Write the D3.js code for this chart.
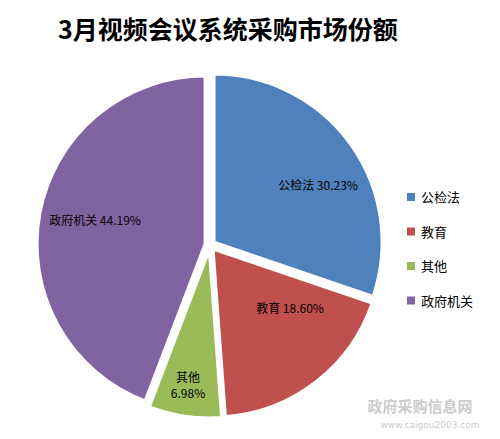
<!DOCTYPE html><html><head><meta charset="utf-8"><script src="https://cdn.jsdelivr.net/npm/d3@7"></script>
<style>body{margin:0;background:#fff}</style></head><body><svg id="c" width="500" height="439"></svg>
<script>
const categories=["公检法","教育","其他","政府机关"];
const values=[30.23,18.60,6.98,44.19];
const colors=["#4F81BD","#C0504D","#9BBB59","#8064A2"];
const title="3月视频会议系统采购市场份额";
const svg=d3.select("#c");
svg.append("text").attr("x",228).attr("y",39).attr("text-anchor","middle").attr("font-family","Noto Sans CJK SC").attr("font-weight","bold").attr("font-size",25).text(title);
const cx=210,cy=245,r=168,off=5;
const arcs=d3.pie().sort(null).value(d=>d)(values);
const arc=d3.arc().innerRadius(0).outerRadius(r);
const g=svg.append("g").attr("transform",`translate(${cx},${cy})`);
arcs.forEach((a,i)=>{const m=(a.startAngle+a.endAngle)/2;
 g.append("path").attr("d",arc(a)).attr("fill",colors[i]).attr("stroke","#fff").attr("stroke-width",3)
 .attr("transform",`translate(${Math.sin(m)*off},${-Math.cos(m)*off})`);});
const lab=[[108,-55],[80,68],[-22,137],[-115,-20]];
const tx=svg.append("g").attr("font-family","Noto Sans CJK SC").attr("font-size",12).attr("fill","#000");
arcs.forEach((a,i)=>{const t=tx.append("text").attr("text-anchor","middle").attr("x",cx+lab[i][0]).attr("y",cy+lab[i][1]);
 if(i===2){t.append("tspan").attr("x",cx+lab[i][0]).text(categories[i]);t.append("tspan").attr("x",cx+lab[i][0]).attr("dy",16).text(values[i].toFixed(2)+"%");}
 else t.text(categories[i]+" "+values[i].toFixed(2)+"%");});
const lg=svg.append("g").attr("font-family","Noto Sans CJK SC").attr("font-size",13);
categories.forEach((c,i)=>{const y=197+i*34.5;
 lg.append("rect").attr("x",407).attr("y",y-4).attr("width",8).attr("height",8).attr("fill",colors[i]);
 lg.append("text").attr("x",421).attr("y",y+5).text(c);});
svg.append("text").attr("x",420).attr("y",412).attr("text-anchor","middle").attr("font-family","Noto Sans CJK SC").attr("font-size",15).attr("font-weight","bold").attr("fill","#ccc").text("政府采购信息网");
svg.append("text").attr("x",430).attr("y",428).attr("text-anchor","middle").attr("font-family","DejaVu Sans").attr("font-size",9).attr("fill","#ccc").text("www.caigou2003.com");
</script></body></html>
